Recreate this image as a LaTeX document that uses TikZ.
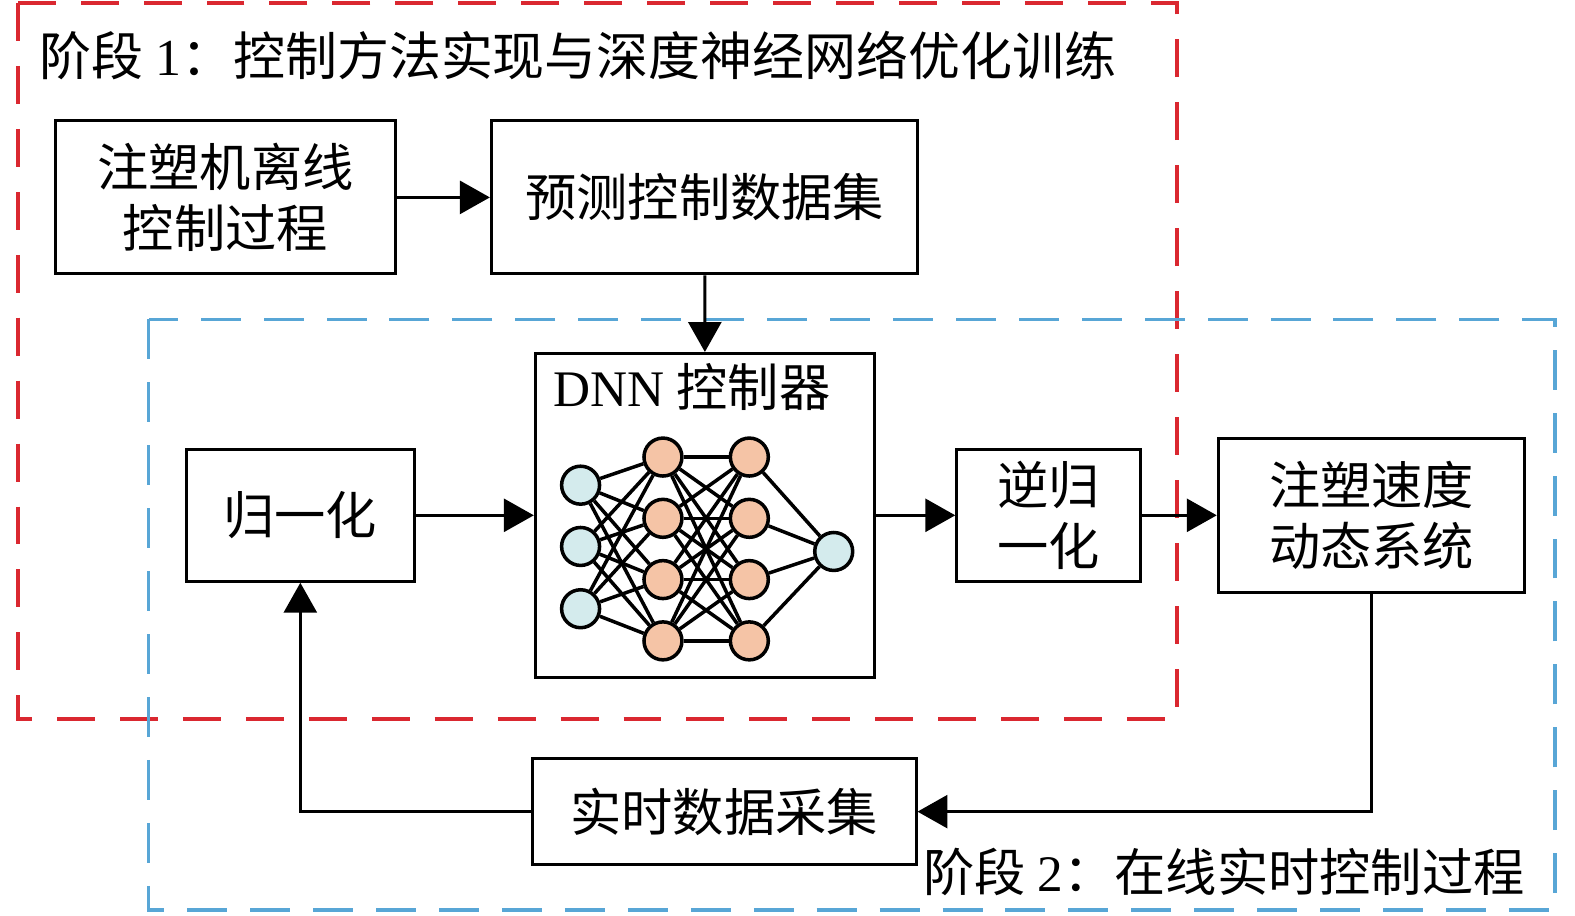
\documentclass[tikz,border=0pt]{standalone}
\usepackage{fontspec}
\setmainfont{Liberation Serif}
\newfontfamily\cjk{Noto Sans CJK SC}
\usetikzlibrary{positioning,arrows.meta}
\definecolor{stagered}{RGB}{218,40,48}
\definecolor{stageblue}{RGB}{88,166,214}
\definecolor{incol}{RGB}{212,235,237}
\definecolor{hidcol}{RGB}{245,196,166}

\begin{document}
\begin{tikzpicture}[x=0.01005cm, y=-0.01005cm, line width=0.85pt,
  every node/.style={font=\cjk\fontsize{14.6}{17.2}\selectfont},
  b/.style={draw, align=center, inner sep=0pt, fill=white},
  nn/.style={circle, draw, line width=1pt, minimum size=0.38cm, inner sep=0pt},
  arr/.style={-{Triangle[length=0.3cm,width=0.33cm]}},
  stage1/.style={draw=stagered, line width=1pt, dash pattern=on 0.38cm off 0.25cm},
  stage2/.style={draw=stageblue, line width=1pt, dash pattern=on 0.4cm off 0.23cm}]
\useasboundingbox (0,0) rectangle (1568,911);
% stage frames
\draw[stage1] (18,3) rectangle (1172,716);
\draw[stage2] (148,318) rectangle (1548,906);
\node[anchor=west, inner sep=0pt, font=\cjk\fontsize{14.8}{17.2}\selectfont] (t1) at (38,55) {阶段 {\rmfamily 1}：控制方法实现与深度神经网络优化训练};
\node[anchor=west, inner sep=0pt] (t2) at (918,868) {阶段 {\rmfamily 2}：在线实时控制过程};
% blocks
\node[b, minimum width=3.41cm, minimum height=1.53cm] (off) at (224.5,196.5) {注塑机离线\\控制过程};
\node[b, minimum width=4.27cm, minimum height=1.53cm] (data) at (701.5,196.5) {预测控制数据集};
\node[b, minimum width=3.40cm, minimum height=3.24cm] (dnn) at (702,513) {};
\node[anchor=west, inner sep=0pt] (dnnt) at (550,385) {{\rmfamily DNN} 控制器};
\node[b, minimum width=2.28cm, minimum height=1.32cm] (norm) at (299,513) {归一化};
\node[b, minimum width=1.84cm, minimum height=1.32cm] (inv) at (1044,513) {逆归\\一化};
\node[b, minimum width=3.07cm, minimum height=1.54cm] (sys) at (1365.5,513) {注塑速度\\动态系统};
\node[b, minimum width=3.84cm, minimum height=1.06cm] (rt) at (721,808) {实时数据采集};
% network
\foreach \i/\y in {1/483,2/544,3/606} \node[nn, fill=incol] (i\i) at (578,\y) {};
\foreach \i/\y in {1/455,2/516,3/577,4/638} {
  \node[nn, fill=hidcol] (h\i) at (660,\y) {};
  \node[nn, fill=hidcol] (g\i) at (746,\y) {};
}
\node[nn, fill=incol] (o) at (830,549) {};
\begin{scope}[line width=1pt]
\foreach \a in {1,2,3} \foreach \c in {1,...,4} \draw (i\a) -- (h\c);
\foreach \a in {1,...,4} \foreach \c in {1,...,4} \draw (h\a) -- (g\c);
\foreach \a in {1,...,4} \draw (g\a) -- (o);
\end{scope}
% connectors
\draw[arr] (off) -- (data);
\draw[arr] (data) -- (dnn);
\draw[arr] (norm) -- (dnn);
\draw[arr] (dnn) -- (inv);
\draw[arr] (inv) -- (sys);
\draw[arr] (sys.south) |- (rt.east);
\draw[arr] (rt.west) -| (norm.south);
\end{tikzpicture}
\end{document}
